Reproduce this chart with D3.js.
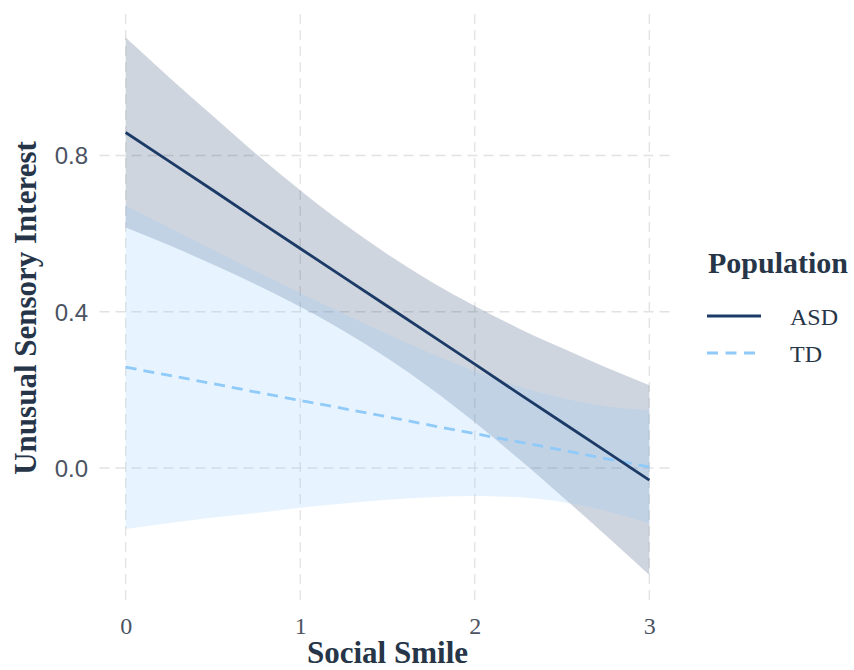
<!DOCTYPE html>
<html>
<head>
<meta charset="utf-8">
<script src="https://cdn.jsdelivr.net/npm/d3@7"></script>
<style>
  html, body { margin: 0; padding: 0; background: #ffffff; }
  svg { display: block; }
</style>
</head>
<body>
<svg id="chart" width="854" height="670"></svg>
<script>
// Social Smile score at which predictions are evaluated
const socialSmile = [0, 0.25, 0.5, 0.75, 1, 1.25, 1.5, 1.75, 2, 2.25, 2.5, 2.75, 3];

// ASD: fitted Unusual Sensory Interest and its confidence band
const asdFit   = [0.859, 0.785, 0.711, 0.636, 0.562, 0.488, 0.414, 0.340, 0.266, 0.191, 0.117, 0.043, -0.031];
const asdUpper = [1.102, 1.000, 0.901, 0.803, 0.711, 0.625, 0.547, 0.477, 0.415, 0.358, 0.307, 0.258, 0.212];
const asdLower = [0.616, 0.570, 0.521, 0.469, 0.413, 0.351, 0.281, 0.203, 0.117, 0.024, -0.073, -0.172, -0.274];

// TD: fitted Unusual Sensory Interest and its confidence band
const tdFit   = [0.258, 0.237, 0.216, 0.194, 0.173, 0.152, 0.131, 0.109, 0.088, 0.067, 0.046, 0.024, 0.003];
const tdUpper = [0.672, 0.615, 0.559, 0.503, 0.448, 0.395, 0.343, 0.293, 0.248, 0.209, 0.179, 0.158, 0.148];
const tdLower = [-0.156, -0.141, -0.127, -0.115, -0.102, -0.091, -0.081, -0.075, -0.072, -0.075, -0.087, -0.110, -0.142];

const xTicks = [0, 1, 2, 3];
const yTicks = [0.0, 0.4, 0.8];
const groups = ["ASD", "TD"];

const svg = d3.select("#chart");

const x = d3.scaleLinear().domain([-0.15, 3.15]).range([99.5, 675.5]);
const y = d3.scaleLinear().domain([-0.3431, 1.1623]).range([602, 14]);

const titleColor = "#263548";
const tickColor = "#4b5363";
const serif = "'Liberation Serif', 'Times New Roman', serif";
const sans = "'Liberation Sans', Arial, sans-serif";

const colors = { ASD: "#1b3a66", TD: "#90caf9" };

// Grid
const grid = svg.append("g").attr("class", "grid");
grid.selectAll("line.gx").data(xTicks).join("line")
  .attr("class", "gx")
  .attr("x1", d => x(d)).attr("x2", d => x(d))
  .attr("y1", y.range()[1]).attr("y2", y.range()[0])
  .attr("stroke", "#e2e2e2").attr("stroke-width", 1.3)
  .attr("stroke-dasharray", "10,6");
grid.selectAll("line.gy").data(yTicks).join("line")
  .attr("class", "gy")
  .attr("x1", x.range()[0]).attr("x2", x.range()[1])
  .attr("y1", d => y(d)).attr("y2", d => y(d))
  .attr("stroke", "#e2e2e2").attr("stroke-width", 1.3)
  .attr("stroke-dasharray", "10,6");

// Confidence bands
const asdRows = socialSmile.map((s, i) => ({ s, fit: asdFit[i], lo: asdLower[i], hi: asdUpper[i] }));
const tdRows  = socialSmile.map((s, i) => ({ s, fit: tdFit[i],  lo: tdLower[i],  hi: tdUpper[i] }));

const band = d3.area()
  .x(d => x(d.s)).y0(d => y(d.lo)).y1(d => y(d.hi))
  .curve(d3.curveMonotoneX);

svg.append("path").datum(asdRows).attr("d", band)
  .attr("fill", colors.ASD).attr("fill-opacity", 0.21);
svg.append("path").datum(tdRows).attr("d", band)
  .attr("fill", colors.TD).attr("fill-opacity", 0.22);

// Fitted lines
const fitLine = d3.line().x(d => x(d.s)).y(d => y(d.fit));

svg.append("path").datum(tdRows).attr("d", fitLine)
  .attr("fill", "none").attr("stroke", colors.TD)
  .attr("stroke-width", 2.8).attr("stroke-dasharray", "11,7");
svg.append("path").datum(asdRows).attr("d", fitLine)
  .attr("fill", "none").attr("stroke", colors.ASD)
  .attr("stroke-width", 2.8);

// Axes
const xAxis = d3.axisBottom(x).tickValues(xTicks).tickSize(0).tickPadding(0)
  .tickFormat(d3.format("d"));
const gx = svg.append("g").attr("transform", "translate(0,617)").call(xAxis);
gx.select(".domain").remove();
gx.selectAll("text")
  .attr("dy", null).attr("y", 17)
  .attr("font-family", serif).attr("font-size", 24).attr("fill", tickColor);

const yAxis = d3.axisLeft(y).tickValues(yTicks).tickSize(0).tickPadding(0)
  .tickFormat(d3.format(".1f"));
const gy = svg.append("g").attr("transform", "translate(88,0)").call(yAxis);
gy.select(".domain").remove();
gy.selectAll("text")
  .attr("x", 0).attr("dy", "0.35em")
  .attr("font-family", sans).attr("font-size", 24).attr("fill", tickColor);

// Axis titles
svg.append("text")
  .attr("x", (x.range()[0] + x.range()[1]) / 2).attr("y", 663)
  .attr("text-anchor", "middle")
  .attr("font-family", serif).attr("font-weight", "bold").attr("font-size", 31)
  .attr("fill", titleColor)
  .text("Social Smile");

svg.append("text")
  .attr("transform", `translate(36,${(y.range()[0] + y.range()[1]) / 2}) rotate(-90)`)
  .attr("text-anchor", "middle")
  .attr("font-family", serif).attr("font-weight", "bold").attr("font-size", 31)
  .attr("fill", titleColor)
  .text("Unusual Sensory Interest");

// Legend
const legend = svg.append("g").attr("transform", "translate(707,0)");
legend.append("text")
  .attr("x", 1).attr("y", 273)
  .attr("font-family", serif).attr("font-weight", "bold").attr("font-size", 30)
  .attr("fill", titleColor)
  .text("Population");

const keyY = d3.scalePoint().domain(groups).range([316, 353]);
const keys = legend.selectAll("g.key").data(groups).join("g")
  .attr("class", "key")
  .attr("transform", d => `translate(0,${keyY(d)})`);
keys.append("line")
  .attr("x1", 0).attr("x2", 54).attr("y1", 0).attr("y2", 0)
  .attr("stroke", d => colors[d]).attr("stroke-width", 2.8)
  .attr("stroke-dasharray", d => d === "TD" ? "11,7.5" : null);
keys.append("text")
  .attr("x", 83).attr("y", 9)
  .attr("font-family", serif).attr("font-size", 24)
  .attr("fill", titleColor)
  .text(d => d);
</script>
</body>
</html>
